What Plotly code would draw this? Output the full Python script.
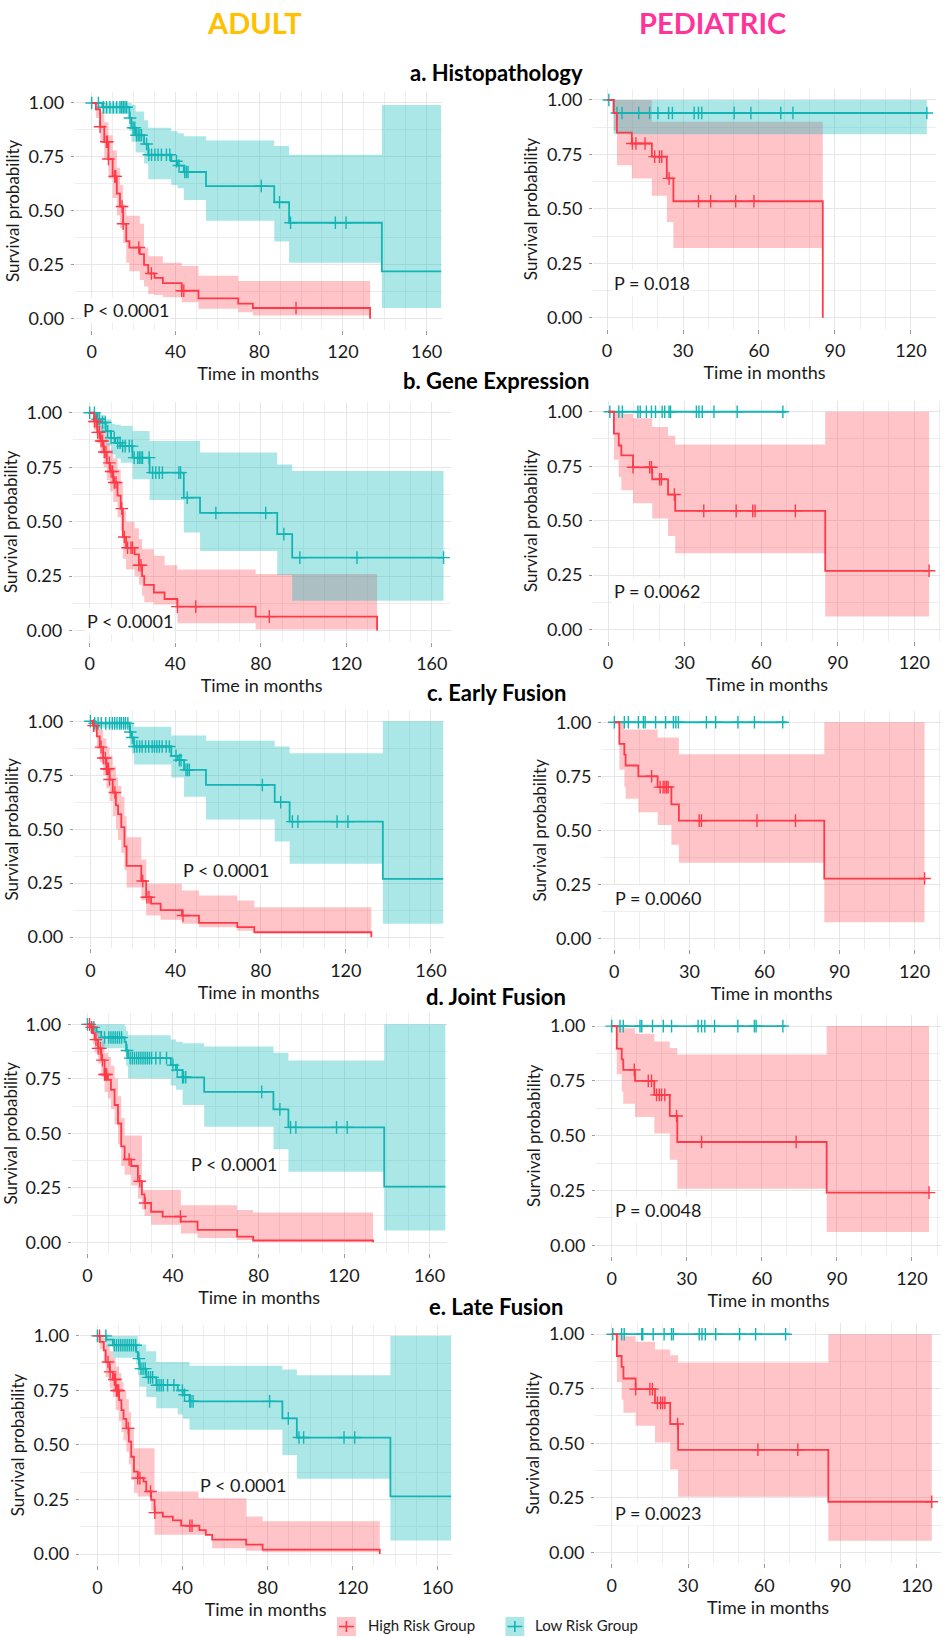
import plotly.graph_objects as go

W, H = 945, 1637
RED, TEAL = "#FF3A48", "#12B4B4"
RED_FILL, TEAL_FILL = "rgba(255,58,72,0.30)", "rgba(16,185,185,0.35)"
FONT = "Lato"
INK = "#1a1a1a"

# ---------------- survival data (time in months) ----------------
# Each group: step times, survival, upper/lower 95% CI per step, censor times, last follow-up.

# a. Histopathology - adult
hist_ad_high_t = [0, 2, 4, 6, 8, 10, 12, 13.5, 15, 16.5, 18, 23, 25, 27, 30, 34, 43, 51, 70, 77, 133]
hist_ad_high_s = [1, .97, .89, .82, .74, .66, .58, .52, .44, .36, .33, .30, .25, .21, .19, .165, .13, .095, .07, .05, 0]
hist_ad_high_up = [1, 1, .96, .91, .85, .78, .70, .62, .53, .477, .477, .44, .33, .29, .29, .26, .245, .20, .175, .175]
hist_ad_high_lo = [1, .93, .82, .74, .65, .56, .48, .42, .35, .26, .22, .18, .15, .115, .11, .10, .077, .046, .03, .015]
hist_ad_high_cens = [4, 7, 7.5, 8, 11, 11.5, 14.5, 15, 22.5, 28.5, 43, 44, 97.6]
hist_ad_high_end = 133
hist_ad_low_t = [0, 5, 18, 19, 21, 25, 27, 38, 41, 44, 54.6, 87.2, 94.3, 138.6]
hist_ad_low_s = [1, .98, .93, .885, .85, .81, .76, .73, .71, .68, .615, .54, .445, .22]
hist_ad_low_up = [1, 1, 1, .99, .96, .92, .885, .87, .86, .846, .826, .80, .76, .99]
hist_ad_low_lo = [1, .95, .87, .82, .77, .72, .646, .62, .605, .55, .454, .358, .26, .05]
hist_ad_low_cens = [0, 3.2, 5.6, 7.1, 8.7, 10.3, 11.9, 13.5, 14.3, 15.1, 15.9, 16.7, 18.3, 19.8,
                    20.6, 21.4, 22.2, 23, 23.8, 26.2, 27.3, 28.6, 30.2, 31.7, 33.3, 35.7, 37.3,
                    40.5, 41.7, 44.4, 45.2, 46, 81, 89.7, 95, 116.4, 121.5]
hist_ad_low_end = 167

# a. Histopathology - pediatric
hist_pd_high_t = [0, 2.6, 3.9, 9.8, 17.7, 23.6, 26.2, 85.2]
hist_pd_high_s = [1, .94, .85, .80, .74, .64, .535, 0]
hist_pd_high_up = [1, 1, 1, 1, .90, .90, .90]
hist_pd_high_lo = [1, .86, .70, .64, .56, .44, .32]
hist_pd_high_cens = [10, 11.4, 15, 18.8, 20.7, 21.6, 24.5, 36.1, 40.9, 50.8, 58]
hist_pd_high_end = 85.2
hist_pd_low_t = [0, 2.6]
hist_pd_low_s = [1, .94]
hist_pd_low_up = [1, 1]
hist_pd_low_lo = [1, .842]
hist_pd_low_cens = [0.7, 3.9, 5.9, 12.5, 16.8, 20.1, 24.3, 25.8, 34.4, 36.1, 37.4, 50.2, 56.8, 68.6, 73.4, 126.3]
hist_pd_low_end = 126.3

# b. Gene Expression - adult
gene_ad_high_t = [0, 2, 3.5, 5, 6.5, 8, 9.5, 11, 13, 14.5, 15.5, 17, 21, 23, 24.5, 25.5, 30, 35, 41, 77.6, 134.4]
gene_ad_high_s = [1, .96, .91, .87, .82, .77, .73, .68, .62, .56, .43, .38, .35, .30, .25, .21, .175, .145, .11, .064, 0]
gene_ad_high_up = [1, 1, .97, .94, .90, .86, .83, .79, .74, .68, .55, .50, .47, .42, .374, .374, .344, .30, .28, .26]
gene_ad_high_lo = [1, .92, .86, .81, .75, .69, .64, .59, .52, .46, .33, .28, .25, .21, .16, .13, .12, .12, .034, .005]
gene_ad_high_cens = [2.2, 3, 3.7, 4.5, 5.3, 6, 6.8, 7.6, 9.2, 10, 10.7, 11.5, 12.3, 15, 16.2, 17.7,
                     19.3, 20, 23, 24, 41, 49.6, 84]
gene_ad_high_end = 134.4
gene_ad_low_t = [0, 3, 5, 7.5, 10, 12, 14.5, 20, 28, 44, 51.6, 87.7, 94.7]
gene_ad_low_s = [1, .97, .955, .915, .885, .862, .847, .794, .725, .61, .54, .443, .335]
gene_ad_low_up = [1, 1, .99, .97, .95, .945, .94, .916, .87, .87, .817, .763, .733]
gene_ad_low_lo = [1, .93, .90, .85, .81, .79, .77, .695, .60, .45, .365, .255, .137]
gene_ad_low_cens = [0, 2.2, 3.7, 4.5, 6, 7.3, 8.4, 10, 11.5, 13.1, 14.2, 15.4, 16.6, 18.5, 19.8, 20.8,
                    22.4, 23.2, 24, 24.7, 27.8, 29.4, 30.9, 32.5, 34, 41.7, 42.5, 45.6, 59, 82.3,
                    90.8, 98.3, 125, 165.5]
gene_ad_low_end = 165.5

# b. Gene Expression - pediatric
gene_pd_high_t = [0, 2.3, 4.2, 5.2, 9.8, 17.3, 23.5, 26.3, 85.1]
gene_pd_high_s = [1, .90, .845, .80, .745, .69, .62, .545, .27]
gene_pd_high_up = [1, 1, 1, .99, .97, .93, .89, .85, 1]
gene_pd_high_lo = [1, .78, .70, .64, .58, .51, .43, .35, .06]
gene_pd_high_cens = [9.8, 16.3, 17, 20.2, 20.9, 26, 37.5, 50.2, 56.7, 57.6, 73.4, 125.8]
gene_pd_high_end = 125.8
gene_pd_low_t = [0]
gene_pd_low_s = [1]
gene_pd_low_up = [1]
gene_pd_low_lo = [1]
gene_pd_low_cens = [0.7, 4.2, 5.6, 11.7, 12.6, 15, 17, 18.6, 21.2, 22.2, 23.9, 24.5, 34.6, 35.6,
                    36.9, 41.5, 50.6, 68.5]
gene_pd_low_end = 69.8

# c. Early Fusion - adult
early_ad_high_t = [0, 1.2, 3, 4.4, 6, 7.5, 9, 10.5, 12, 13, 14.5, 16, 17, 23.9, 26.2, 28.5, 33, 43, 51, 69, 77, 132]
early_ad_high_s = [1, .98, .93, .88, .83, .78, .73, .67, .61, .57, .51, .42, .33, .26, .185, .155, .125, .10, .066, .046, .023, 0]
early_ad_high_up = [1, 1, .99, .96, .92, .88, .84, .79, .74, .70, .65, .56, .463, .36, .247, .247, .247, .216, .193, .17, .139]
early_ad_high_lo = [1, .95, .87, .81, .75, .69, .63, .56, .50, .45, .39, .31, .23, .17, .10, .10, .08, .062, .046, .03, .015]
early_ad_high_cens = [1.5, 5, 6, 7, 7.5, 8, 8.5, 9, 11.5, 24.6, 26.5, 27.5, 43.5]
early_ad_high_end = 132
early_ad_low_t = [0, 2, 18.5, 19.5, 20.5, 38, 41, 44, 54.3, 86.6, 93.6, 137.4]
early_ad_low_s = [1, .99, .95, .925, .883, .84, .82, .775, .705, .625, .535, .27]
early_ad_low_up = [1, 1, 1, .99, .975, .934, .934, .934, .91, .883, .852, 1]
early_ad_low_lo = [1, .97, .89, .85, .80, .74, .74, .65, .545, .443, .34, .062]
early_ad_low_cens = [0, 2, 3.6, 5.1, 7.2, 9, 10.3, 11.4, 12.5, 13.7, 14.5, 15.6, 16.5, 17.6, 18.7,
                     19.7, 20.7, 21.8, 23.1, 24.3, 25.9, 27.4, 29, 30.1, 31.2, 32.4, 33.7, 35.6,
                     37.1, 40.2, 41.8, 42.6, 44.9, 45.7, 46.5, 80.8, 89.4, 94.9, 97.5, 115.9, 121]
early_ad_low_end = 165.8

# c. Early Fusion - pediatric
early_pd_high_t = [0, 2, 4, 4.5, 9.6, 17.3, 22.8, 25.8, 83.9]
early_pd_high_s = [1, .90, .85, .80, .75, .70, .62, .545, .277]
early_pd_high_up = [1, 1, .966, .966, .966, .93, .93, .852, 1]
early_pd_high_lo = [1, .78, .70, .646, .584, .525, .433, .35, .075]
early_pd_high_cens = [14.9, 18.3, 19.5, 20.2, 20.9, 21.5, 33.9, 34.8, 57, 72.4, 124]
early_pd_high_end = 124
early_pd_low_t = [0]
early_pd_low_s = [1]
early_pd_low_up = [1]
early_pd_low_lo = [1]
early_pd_low_cens = [0, 4, 5.6, 9.6, 11.6, 12.3, 16.5, 20.5, 23.6, 24.6, 25.6, 36.8, 40.5, 49.4, 56, 67.3]
early_pd_low_end = 68.7

# d. Joint Fusion - adult
joint_ad_high_t = [0, 1.1, 2.5, 3.4, 5, 6.5, 8, 9.6, 11, 12.7, 14.3, 15.8, 17.4, 20.5, 23.6, 25.5,
                   26.7, 29.8, 35.2, 43.7, 51.5, 70, 77.5, 133.6]
joint_ad_high_s = [1, .986, .96, .93, .89, .836, .77, .745, .70, .63, .545, .44, .38, .35, .28, .22,
                   .18, .14, .118, .095, .057, .026, .008, 0]
joint_ad_high_up = [1, 1, 1, .99, .96, .92, .87, .85, .81, .75, .67, .57, .49, .49, .49, .24, .24,
                    .24, .24, .17, .17, .148, .136]
joint_ad_high_lo = [1, .96, .91, .87, .82, .76, .69, .66, .61, .54, .45, .35, .31, .26, .20, .15, .12,
                    .08, .08, .04, .02, .01, .003]
joint_ad_high_cens = [1, 2, 4, 5, 6, 7, 8, 8.5, 9, 19.5, 24.5, 27, 43.5]
joint_ad_high_end = 133.6
joint_ad_low_t = [0, 1.9, 4.2, 6.5, 17.4, 18.1, 19, 39, 41.4, 44.5, 54.6, 87, 94, 138.8]
joint_ad_low_s = [1, .986, .966, .94, .92, .88, .845, .813, .79, .757, .69, .61, .527, .255]
joint_ad_low_up = [1, 1, 1, 1, .99, .97, .95, .93, .92, .913, .898, .87, .834, 1]
joint_ad_low_lo = [1, .96, .92, .89, .87, .81, .752, .72, .70, .63, .53, .427, .324, .054]
joint_ad_low_cens = [0, 3, 8, 10, 11, 12, 13, 14, 15, 16, 18.5, 20, 21, 22, 23, 24, 25, 26, 27, 28,
                     29, 30, 32, 34, 37, 40, 42, 44.5, 45, 46, 81.5, 90, 95, 97.5, 116.5, 121.5]
joint_ad_low_end = 167.4

# d. Joint Fusion - pediatric
joint_pd_high_t = [0, 2, 4, 4.6, 9.3, 17, 23.2, 26.2, 85.9]
joint_pd_high_s = [1, .897, .848, .80, .75, .686, .59, .471, .24]
joint_pd_high_up = [1, 1, 1, .99, .965, .93, .90, .87, 1]
joint_pd_high_lo = [1, .78, .70, .646, .585, .51, .39, .258, .06]
joint_pd_high_cens = [9, 14.6, 15.9, 17.9, 19, 19.9, 21.2, 25.9, 35.9, 73.7, 126.8]
joint_pd_high_end = 126.8
joint_pd_low_t = [0]
joint_pd_low_s = [1]
joint_pd_low_up = [1]
joint_pd_low_lo = [1]
joint_pd_low_cens = [0, 3.3, 4.6, 11.3, 12, 16.3, 20.6, 23.9, 34.5, 35.9, 37.2, 41.1, 50.4, 57, 57.7, 68.4]
joint_pd_low_end = 69.7

# e. Late Fusion - adult
late_ad_high_t = [0, 1.1, 3, 3.9, 5.8, 7.3, 8.6, 10.2, 11.3, 12.3, 13.6, 14.8, 15.9, 17.2, 19, 21.7,
                  23, 25.3, 26.9, 30.8, 35.5, 39.4, 48, 51, 54, 70, 77.7, 132.8]
late_ad_high_s = [1, .973, .934, .88, .835, .80, .75, .706, .66, .62, .576, .515, .446, .378, .348,
                  .332, .287, .248, .19, .172, .154, .13, .11, .088, .066, .043, .02, 0]
late_ad_high_up = [1, 1, .99, .96, .93, .90, .86, .83, .79, .75, .71, .65, .58, .485, .485, .485,
                   .485, .485, .287, .287, .287, .287, .256, .256, .256, .172, .15]
late_ad_high_lo = [1, .94, .88, .81, .76, .72, .66, .61, .56, .52, .47, .41, .34, .28, .264, .264,
                   .264, .20, .088, .088, .088, .088, .088, .088, .027, .015, .008]
late_ad_high_cens = [1, 5, 6, 8, 8.5, 9, 9.5, 10, 14.5, 19, 20, 25, 27, 43.5, 44.5]
late_ad_high_end = 132.8
late_ad_low_t = [0, 4.2, 7.3, 18.3, 19, 19.8, 23, 27.7, 37.8, 40.2, 43.3, 87, 93.8, 137.8]
late_ad_low_s = [1, .983, .957, .927, .896, .85, .81, .774, .75, .73, .70, .622, .534, .264]
late_ad_low_up = [1, 1, 1, 1, .97, .96, .93, .88, .88, .88, .863, .846, .82, 1]
late_ad_low_lo = [1, .95, .90, .87, .82, .767, .72, .668, .64, .62, .57, .454, .345, .062]
late_ad_low_cens = [0, 4, 8, 9, 10, 11, 12, 13, 14, 15, 16, 17, 18, 19.5, 20.5, 21.5, 22.5, 24, 25,
                    26, 28, 29, 30, 31, 33, 36, 40, 41, 43.5, 44, 45, 81, 89.8, 94.8, 97, 116, 121]
late_ad_low_end = 166.4

# e. Late Fusion - pediatric
late_pd_high_t = [0, 2, 3.9, 4.6, 9.4, 17, 23, 26.1, 85.2]
late_pd_high_s = [1, .90, .85, .797, .748, .685, .588, .47, .232]
late_pd_high_up = [1, 1, 1, .99, .965, .93, .904, .87, 1]
late_pd_high_lo = [1, .78, .70, .64, .58, .504, .38, .255, .053]
late_pd_high_cens = [9.4, 15, 16, 18, 19.2, 20, 20.9, 25.9, 57.5, 73.2, 125.9]
late_pd_high_end = 125.9
late_pd_low_t = [0]
late_pd_low_s = [1]
late_pd_low_up = [1]
late_pd_low_lo = [1]
late_pd_low_cens = [0.4, 3.9, 4.9, 11.8, 12.2, 16.3, 20.6, 23.5, 24.2, 34.4, 35.5, 36.8, 40.9, 50.3, 56.6, 68.4]
late_pd_low_end = 69.7

# log-rank p-values per panel
panel_titles = ["a. Histopathology", "b. Gene Expression", "c. Early Fusion", "d. Joint Fusion", "e. Late Fusion"]
p_labels = ["P < 0.0001", "P = 0.018", "P < 0.0001", "P = 0.0062", "P < 0.0001", "P = 0.0060",
            "P < 0.0001", "P = 0.0048", "P < 0.0001", "P = 0.0023"]
adult_ticks = [0, 40, 80, 120, 160]
pediatric_ticks = [0, 30, 60, 90, 120]
y_ticks = [0, 0.25, 0.5, 0.75, 1.0]
y_ticktext = ["0.00", "0.25", "0.50", "0.75", "1.00"]

groups = {
    "hist_ad": (hist_ad_high_t, hist_ad_high_s, hist_ad_high_up, hist_ad_high_lo, hist_ad_high_cens, hist_ad_high_end,
                hist_ad_low_t, hist_ad_low_s, hist_ad_low_up, hist_ad_low_lo, hist_ad_low_cens, hist_ad_low_end),
    "hist_pd": (hist_pd_high_t, hist_pd_high_s, hist_pd_high_up, hist_pd_high_lo, hist_pd_high_cens, hist_pd_high_end,
                hist_pd_low_t, hist_pd_low_s, hist_pd_low_up, hist_pd_low_lo, hist_pd_low_cens, hist_pd_low_end),
    "gene_ad": (gene_ad_high_t, gene_ad_high_s, gene_ad_high_up, gene_ad_high_lo, gene_ad_high_cens, gene_ad_high_end,
                gene_ad_low_t, gene_ad_low_s, gene_ad_low_up, gene_ad_low_lo, gene_ad_low_cens, gene_ad_low_end),
    "gene_pd": (gene_pd_high_t, gene_pd_high_s, gene_pd_high_up, gene_pd_high_lo, gene_pd_high_cens, gene_pd_high_end,
                gene_pd_low_t, gene_pd_low_s, gene_pd_low_up, gene_pd_low_lo, gene_pd_low_cens, gene_pd_low_end),
    "early_ad": (early_ad_high_t, early_ad_high_s, early_ad_high_up, early_ad_high_lo, early_ad_high_cens, early_ad_high_end,
                 early_ad_low_t, early_ad_low_s, early_ad_low_up, early_ad_low_lo, early_ad_low_cens, early_ad_low_end),
    "early_pd": (early_pd_high_t, early_pd_high_s, early_pd_high_up, early_pd_high_lo, early_pd_high_cens, early_pd_high_end,
                 early_pd_low_t, early_pd_low_s, early_pd_low_up, early_pd_low_lo, early_pd_low_cens, early_pd_low_end),
    "joint_ad": (joint_ad_high_t, joint_ad_high_s, joint_ad_high_up, joint_ad_high_lo, joint_ad_high_cens, joint_ad_high_end,
                 joint_ad_low_t, joint_ad_low_s, joint_ad_low_up, joint_ad_low_lo, joint_ad_low_cens, joint_ad_low_end),
    "joint_pd": (joint_pd_high_t, joint_pd_high_s, joint_pd_high_up, joint_pd_high_lo, joint_pd_high_cens, joint_pd_high_end,
                 joint_pd_low_t, joint_pd_low_s, joint_pd_low_up, joint_pd_low_lo, joint_pd_low_cens, joint_pd_low_end),
    "late_ad": (late_ad_high_t, late_ad_high_s, late_ad_high_up, late_ad_high_lo, late_ad_high_cens, late_ad_high_end,
                late_ad_low_t, late_ad_low_s, late_ad_low_up, late_ad_low_lo, late_ad_low_cens, late_ad_low_end),
    "late_pd": (late_pd_high_t, late_pd_high_s, late_pd_high_up, late_pd_high_lo, late_pd_high_cens, late_pd_high_end,
                late_pd_low_t, late_pd_low_s, late_pd_low_up, late_pd_low_lo, late_pd_low_cens, late_pd_low_end),
}

# panel geometry in page pixels: key, x of t=0, px per month, left, right, y of S=1, y of S=0,
# p-label position (months, survival)
panels = [
    ("hist_ad", 92.0, 2.10, 75, 443, 102.0, 318.0, (-5, 0.04)),
    ("hist_pd", 609.0, 2.54, 595, 939, 99.0, 317.0, (2, 0.16)),
    ("gene_ad", 90.0, 2.145, 73, 452, 412.0, 630.0, (-2.3, 0.046)),
    ("gene_pd", 610.0, 2.56, 595, 944, 411.0, 629.0, (1.6, 0.175)),
    ("early_ad", 90.7, 2.135, 74, 445, 720.7, 936.7, (42.5, 0.31)),
    ("early_pd", 616.3, 2.51, 604, 944, 721.7, 938.0, (-0.5, 0.185)),
    ("joint_ad", 87.7, 2.145, 72, 448, 1024.0, 1242.0, (47.7, 0.36)),
    ("joint_pd", 613.7, 2.51, 598, 944, 1025.7, 1245.0, (0.5, 0.16)),
    ("late_ad", 97.7, 2.133, 80, 453, 1335.7, 1554.0, (47.5, 0.317)),
    ("late_pd", 613.7, 2.55, 597, 944, 1334.0, 1552.3, (0.5, 0.18)),
]


def step_xy(t, s, end):
    x, y = list(t), list(s)
    if s[-1] > 0:
        x.append(end)
        y.append(s[-1])
    return x, y


def band_xy(t, s, up, lo, end):
    n = len(t) if s[-1] > 0 else len(t) - 1
    edges = list(t[1:n]) + [end if s[-1] > 0 else t[-1]]
    ux, uy, lx, ly = [], [], [], []
    for i in range(n):
        ux += [t[i], edges[i]]
        uy += [up[i], up[i]]
        lx += [t[i], edges[i]]
        ly += [lo[i], lo[i]]
    return ux + lx[::-1], uy + ly[::-1]


def surv_at(t, s, c):
    v = s[0]
    for ti, si in zip(t, s):
        if ti <= c:
            v = si
    return v


fig = go.Figure()
layout = {}
annotations = []

for k, (key, x0, ppm, left, right, y1, y0, ploc) in enumerate(panels, start=1):
    xr = "x" if k == 1 else f"x{k}"
    yr = "y" if k == 1 else f"y{k}"
    data = groups[key]
    curves = [(data[0:6], RED, RED_FILL), (data[6:12], TEAL, TEAL_FILL)]
    # confidence bands: high-risk first, low-risk on top
    for (t, s, up, lo, cens, end), col, fill in curves:
        if any(u != l for u, l in zip(up, lo)):
            bx, by = band_xy(t, s, up, lo, end)
            fig.add_trace(go.Scatter(x=bx, y=by, xaxis=xr, yaxis=yr, mode="lines", fill="toself",
                                     fillcolor=fill, line=dict(width=0), hoverinfo="skip",
                                     showlegend=False))
    for (t, s, up, lo, cens, end), col, fill in curves[::-1]:
        sx, sy = step_xy(t, s, end)
        fig.add_trace(go.Scatter(x=sx, y=sy, xaxis=xr, yaxis=yr, mode="lines",
                                 line=dict(color=col, width=1.8, shape="hv"), showlegend=False))
        fig.add_trace(go.Scatter(x=cens, y=[surv_at(t, s, c) for c in cens], xaxis=xr, yaxis=yr,
                                 mode="markers", showlegend=False,
                                 marker=dict(symbol="cross-thin", size=9, line=dict(color=col, width=1.4))))

    h = y0 - y1
    ydom = [1 - (y0 + 0.05 * h) / H, 1 - (y1 - 0.05 * h) / H]
    adult = key.endswith("_ad")
    ticks = adult_ticks if adult else pediatric_ticks
    layout["xaxis" if k == 1 else f"xaxis{k}"] = dict(
        domain=[left / W, right / W], range=[(left - x0) / ppm, (right - x0) / ppm],
        anchor=yr, tickmode="array", tickvals=ticks, ticktext=[str(v) for v in ticks],
        showgrid=True, gridcolor="#E6E6E6", gridwidth=1,
        minor=dict(tickmode="linear", tick0=0, dtick=10, showgrid=True, gridcolor="#EEEEEE", gridwidth=1),
        zeroline=False, showline=False, ticks="outside", ticklen=4, tickcolor="#9A9A9A",
        ticklabelstandoff=2, tickfont=dict(family=FONT, size=18, color=INK),
        title=dict(text="Time in months", font=dict(family=FONT, size=18, color=INK), standoff=0),
    )
    layout["yaxis" if k == 1 else f"yaxis{k}"] = dict(
        domain=ydom, range=[-0.05, 1.05], anchor=xr, tickmode="array",
        tickvals=y_ticks, ticktext=y_ticktext,
        showgrid=True, gridcolor="#E6E6E6", gridwidth=1,
        minor=dict(tickmode="linear", tick0=0, dtick=0.125, showgrid=True, gridcolor="#EEEEEE", gridwidth=1),
        zeroline=False, showline=False, ticks="outside", ticklen=3, tickcolor="#9A9A9A",
        ticklabelstandoff=3, tickfont=dict(family=FONT, size=18, color=INK),
        title=dict(text="Survival probability", font=dict(family=FONT, size=17, color=INK), standoff=4),
    )
    annotations.append(dict(x=ploc[0], y=ploc[1], xref=xr, yref=yr, text=p_labels[k - 1],
                            xanchor="left", yanchor="middle", showarrow=False, bgcolor="white",
                            borderpad=1, font=dict(family=FONT, size=18, color=INK)))

# column headers and row titles
annotations.append(dict(x=255 / W, y=1 - 22 / H, xref="paper", yref="paper", text="<b>ADULT</b>",
                        showarrow=False, xanchor="center", yanchor="middle",
                        font=dict(family=FONT, size=29, color="#FFC000")))
annotations.append(dict(x=715 / W, y=1 - 22 / H, xref="paper", yref="paper", text="<b>PEDIATRIC</b>",
                        showarrow=False, xanchor="center", yanchor="middle",
                        font=dict(family=FONT, size=29, color="#FF3399")))
for title, ypx in zip(panel_titles, [72, 380, 692, 996, 1306]):
    annotations.append(dict(x=498 / W, y=1 - ypx / H, xref="paper", yref="paper", text=f"<b>{title}</b>",
                            showarrow=False, xanchor="center", yanchor="middle",
                            font=dict(family=FONT, size=22, color="black")))

# legend keys
shapes = []
for name, col, fill, kx, tx in [("High Risk Group", RED, RED_FILL, 338, 367),
                                ("Low Risk Group", TEAL, TEAL_FILL, 507, 535)]:
    shapes.append(dict(type="rect", xref="paper", yref="paper", x0=kx / W, x1=(kx + 19) / W,
                       y0=1 - 1636 / H, y1=1 - 1617 / H, fillcolor=fill, line=dict(width=0)))
    shapes.append(dict(type="line", xref="paper", yref="paper", x0=(kx + 2) / W, x1=(kx + 17) / W,
                       y0=1 - 1626.5 / H, y1=1 - 1626.5 / H, line=dict(color=col, width=1.6)))
    shapes.append(dict(type="line", xref="paper", yref="paper", x0=(kx + 9.5) / W, x1=(kx + 9.5) / W,
                       y0=1 - 1632 / H, y1=1 - 1621 / H, line=dict(color=col, width=1.6)))
    annotations.append(dict(x=tx / W, y=1 - 1625 / H, xref="paper", yref="paper", text=name,
                            showarrow=False, xanchor="left", yanchor="middle",
                            font=dict(family=FONT, size=15, color=INK)))

fig.update_layout(
    width=W, height=H, margin=dict(l=0, r=0, t=0, b=0),
    paper_bgcolor="white", plot_bgcolor="white", showlegend=False,
    font=dict(family=FONT, color=INK), annotations=annotations, shapes=shapes, **layout,
)

fig.write_html("out.html")
